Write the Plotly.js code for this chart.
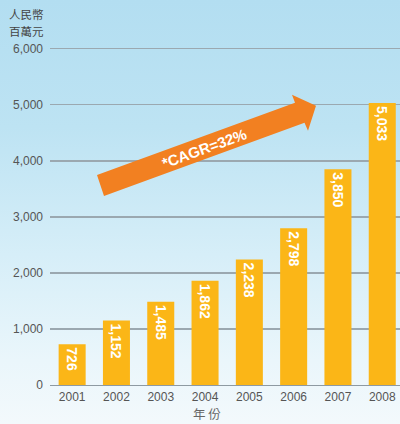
<!DOCTYPE html>
<html>
<head>
<meta charset="utf-8">
<script src="https://cdn.plot.ly/plotly-3.0.1.min.js"></script>
<style>
  html, body { margin: 0; padding: 0; }
  #chart { width: 400px; height: 424px;
    background: linear-gradient(to bottom, #b3def1 0%, #bde3f3 30%, #d6eef8 60%, #eaf6fb 85%, #f3f9fc 100%); }
</style>
</head>
<body>
<div id="chart"></div>
<script>
const years = [2001, 2002, 2003, 2004, 2005, 2006, 2007, 2008];
const revenue = [726, 1152, 1485, 1862, 2238, 2798, 3850, 5033];
const valueLabels = ["726", "1,152", "1,485", "1,862", "2,238", "2,798", "3,850", "5,033"];
const yTicks = [0, 1000, 2000, 3000, 4000, 5000, 6000];
const yTickLabels = ["0", "1,000", "2,000", "3,000", "4,000", "5,000", "6,000"];
const yUnitLines = ["人民幣", "百萬元"];
const xTitle = "年 份";
const cagrText = "*CAGR=32%";

// plot geometry (pixels)
const W = 400, H = 424;
const mL = 50, mR = 0, mB = 39;
const pxPerYear = 44.3;
const xMin = 2000.5, xMax = xMin + (W - mL - mR) / pxPerYear;
const yMax = 6050;
const plotH = yMax * 0.056;
const mT = H - mB - plotH;

function px2x(px) { return xMin + (px - mL) / pxPerYear; }
function py2y(py) { return (H - mB - py) / 0.056; }
function pxPaperX(px) { return (px - mL) / (W - mL - mR); }
function pxPaperY(py) { return (H - mB - py) / plotH; }

const arrowPx = [[97,175],[295,103],[292,95],[316,106],[308,131],[304.5,123],[104,196]];
let path = arrowPx.map((p, i) => (i ? 'L' : 'M') + px2x(p[0]).toFixed(4) + ',' + py2y(p[1]).toFixed(2)).join(' ') + ' Z';

const trace = {
  type: 'bar',
  x: years,
  y: revenue,
  text: valueLabels,
  textposition: 'inside',
  insidetextanchor: 'end',
  textangle: 90,
  constraintext: 'none',
  textfont: { family: 'Liberation Sans, Arial, sans-serif', size: 14, color: '#ffffff', weight: 'bold' },
  marker: { color: '#fbb617', line: { width: 0 } },
  width: 0.61,
  hoverinfo: 'none'
};

const unitFont = { family: 'Noto Sans CJK TC, sans-serif', size: 11.5, color: '#444444' };

const layout = {
  width: W, height: H,
  margin: { l: mL, r: mR, t: mT, b: mB, pad: 0 },
  paper_bgcolor: 'rgba(0,0,0,0)',
  plot_bgcolor: 'rgba(0,0,0,0)',
  showlegend: false,
  font: { family: 'Liberation Sans, Arial, sans-serif', color: '#555555', size: 12 },
  xaxis: {
    range: [xMin, xMax],
    tickmode: 'array', tickvals: years, ticktext: years.map(String),
    showgrid: false, zeroline: false,
    showline: true, linecolor: '#8e9aa2', linewidth: 1.3,
    ticks: '', ticklabelstandoff: 0,
    tickfont: { size: 12, color: '#555555' },
    fixedrange: true
  },
  yaxis: {
    range: [0, yMax],
    tickmode: 'array', tickvals: yTicks, ticktext: yTickLabels,
    showgrid: true, gridcolor: '#9ba8b0', gridwidth: 1.3,
    zeroline: false, showline: false,
    ticks: '', ticklabelstandoff: 6,
    tickfont: { size: 12, color: '#555555' },
    fixedrange: true
  },
  shapes: [{
    type: 'path', xref: 'x', yref: 'y', path: path,
    fillcolor: '#f28021', line: { width: 0 }, layer: 'above'
  }],
  annotations: [
    {
      text: yUnitLines[0], xref: 'paper', yref: 'paper',
      x: pxPaperX(7), y: pxPaperY(14),
      xanchor: 'left', yanchor: 'middle', showarrow: false, font: unitFont
    },
    {
      text: yUnitLines[1], xref: 'paper', yref: 'paper',
      x: pxPaperX(7), y: pxPaperY(31),
      xanchor: 'left', yanchor: 'middle', showarrow: false, font: unitFont
    },
    {
      text: xTitle, xref: 'paper', yref: 'paper',
      x: pxPaperX(207), y: pxPaperY(413),
      xanchor: 'center', yanchor: 'middle', showarrow: false,
      font: { family: 'Noto Sans CJK TC, sans-serif', size: 12.5, color: '#666666' }
    },
    {
      text: '<b>' + cagrText + '</b>', xref: 'x', yref: 'y',
      x: px2x(204), y: py2y(149),
      xanchor: 'center', yanchor: 'middle', showarrow: false, textangle: -20,
      font: { family: 'Liberation Sans, Arial, sans-serif', size: 15, color: '#ffffff' }
    }
  ]
};

Plotly.newPlot('chart', [trace], layout, { displayModeBar: false, staticPlot: true });
</script>
</body>
</html>
